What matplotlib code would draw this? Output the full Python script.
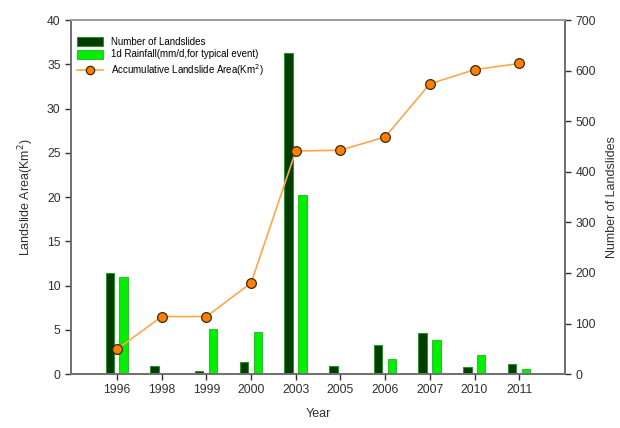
import numpy as np
import matplotlib.pyplot as plt

plt.rcParams['font.family'] = ['Liberation Sans', 'DejaVu Sans']

years = ["1996", "1998", "1999", "2000", "2003", "2005", "2006", "2007", "2010", "2011"]
# bars, in right axis units
num_landslides = [199, 16, 6, 24, 635, 16, 57, 82, 14, 19]
rainfall_1d = [191, 0, 90, 83, 355, 0, 29, 67, 37, 10]
# line, in left axis units (Km^2)
accum_area = [2.8, 6.5, 6.5, 10.3, 25.2, 25.3, 26.8, 32.8, 34.4, 35.1]

x = np.arange(len(years))

fig = plt.figure(figsize=(6.2, 4.28), dpi=100)
ax = fig.add_axes([0.1145, 0.126, 0.7965, 0.827])
ax2 = ax.twinx()

# bars on the right axis
b1 = ax2.bar(x - 0.16, num_landslides, width=0.19, color="#003d00",
             edgecolor="#2f8f2f", linewidth=0.8, label="Number of Landslides")
b2 = ax2.bar(x + 0.15, rainfall_1d, width=0.19, color="#00f000",
             edgecolor="#33bb33", linewidth=0.8,
             label="1d Rainfall(mm/d,for typical event)")

# line on the left axis, drawn on top
ln, = ax.plot(x, accum_area, color="#ffa64d", linewidth=1.2, marker="o",
              markersize=7, markerfacecolor="#ff8000", markeredgecolor="#3a2a10",
              markeredgewidth=0.9, label="Accumulative Landslide Area(Km$^2$)")
ax.set_zorder(ax2.get_zorder() + 1)
ax.patch.set_visible(False)

ax.set_xlim(-1.03, 10.02)
ax.set_ylim(0, 40)
ax2.set_ylim(0, 700)
ax.set_xticks(x)
ax.set_xticklabels(years)
ax.set_yticks(np.arange(0, 41, 5))
ax2.set_yticks(np.arange(0, 701, 100))

for a in (ax, ax2):
    for s in a.spines.values():
        s.set_color("#707070")
        s.set_linewidth(1.3)
    a.tick_params(labelsize=8.7, colors="#303030", length=4, width=1, direction="out")
    a.spines["top"].set_color("#a0a0a0")

ax.set_xlabel("Year", fontsize=9, color="#303030", labelpad=8)
ax.set_ylabel("Landslide Area(Km$^2$)", fontsize=9, color="#303030", labelpad=8)
ax2.set_ylabel("Number of Landslides", fontsize=9, color="#303030")
ax2.yaxis.set_label_coords(1.083, 0.5)

leg = ax.legend(handles=[b1, b2, ln], loc="upper left", frameon=False, fontsize=7,
                handlelength=2.7, handleheight=1.1, borderaxespad=0.2,
                labelspacing=0.3, bbox_to_anchor=(0.0, 0.97))
leg.legend_handles[2].set_markersize(6)

fig.savefig("out.png", dpi=100)
